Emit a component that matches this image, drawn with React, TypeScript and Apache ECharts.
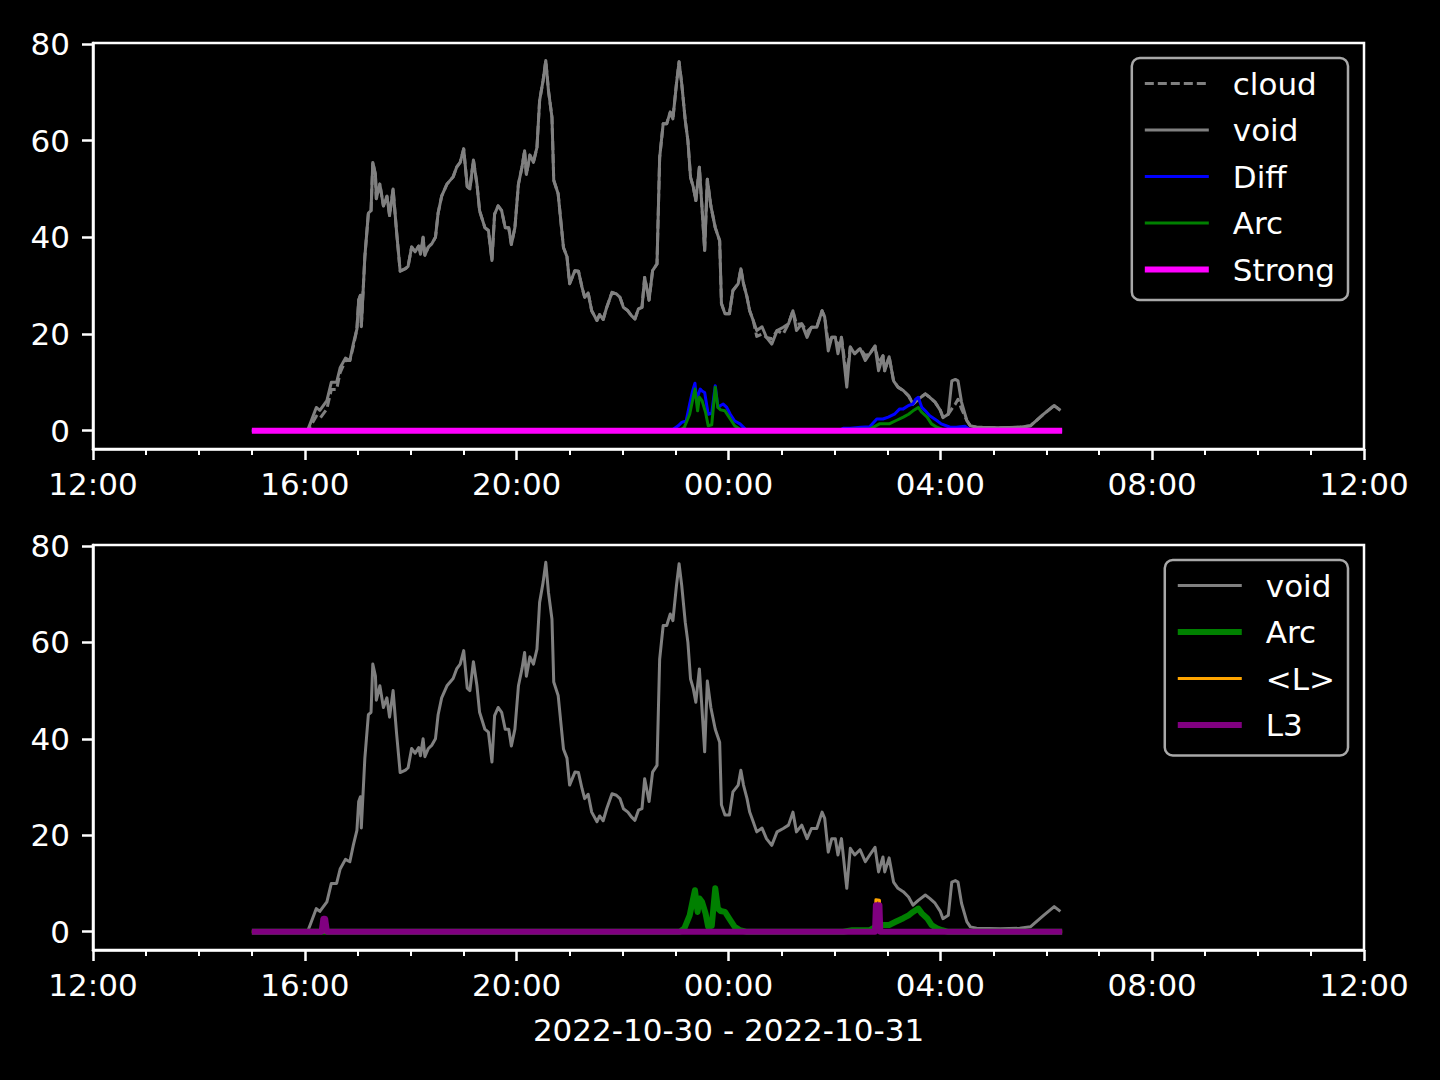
import React, { useEffect, useRef } from 'react';
import * as echarts from 'echarts';

// Time axis: minutes after 2022-10-30 12:00
const xTickLabels = ['12:00', '16:00', '20:00', '00:00', '04:00', '08:00', '12:00'];
const yTickValues = [0, 20, 40, 60, 80];
const dateRangeLabel = '2022-10-30 - 2022-10-31';

const sampleMinutes = [
  180, 200, 220, 243, 246, 253, 257, 265, 270, 276, 280, 286, 291, 295, 299, 301, 303, 304, 308, 312,
  315, 317, 320, 321, 325, 329, 333, 336, 340, 344, 348, 354, 357, 361, 365, 369, 371, 374, 376, 380,
  384, 388, 391, 395, 401, 408, 412, 416, 420, 424, 427, 431, 435, 438, 444, 448, 452, 455, 459, 463,
  467, 471, 474, 478, 482, 486, 489, 491, 495, 499, 503, 506, 510, 513, 516, 520, 522, 527, 533, 537,
  540, 546, 550, 554, 557, 561, 565, 571, 574, 578, 582, 588, 593, 597, 601, 606, 610, 614, 618, 622,
  625, 630, 634, 639, 642, 646, 650, 654, 657, 661, 664, 667, 671, 674, 677, 680, 683, 687, 690, 693,
  696, 700, 705, 710, 712, 716, 721, 725, 731, 734, 737, 741, 744, 748, 752, 758, 763, 769, 775, 782,
  788, 793, 797, 803, 809, 814, 820, 826, 829, 833, 837, 841, 844, 848, 854, 858, 863, 869, 875, 880,
  886, 890, 895, 897, 902, 907, 912, 918, 924, 929, 935, 943, 948, 954, 960, 963, 969, 973, 977, 980,
  984, 990, 994, 1001, 1028, 1050, 1062, 1077, 1089, 1096,
];

const voidValues = [
  0, 0, 0, 0, 1.4, 4.8, 4.2, 6.2, 10, 10, 13, 15, 14.5, 18, 21, 27, 28, 21.5, 36, 45,
  45.5, 55.5, 53, 48, 51, 46.5, 48.5, 44.5, 50, 41, 33, 33.5, 34, 38, 37, 38.2, 36.5, 40, 36.3, 38,
  38.7, 40, 45, 48.5, 51, 52.5, 54.5, 55.5, 58.3, 50.5, 50, 56, 51, 45.5, 42, 41.4, 35.2, 44.8, 46.5, 45.5,
  42, 42, 38.5, 42, 51, 54.5, 57.9, 53, 57, 55.5, 58.6, 68.3, 72.5, 76.6, 70.4, 64.8, 51.8, 49, 37.9, 36,
  30.4, 33.1, 33, 29.7, 27.6, 28.5, 24.8, 22.8, 24, 23, 25.5, 28.6, 28.3, 27.6, 25.5, 24.8, 23.8, 23.1, 25.2, 25.5,
  31.7, 27, 33.1, 34.5, 56.5, 63.5, 63.5, 65.9, 64.5, 71.7, 76.3, 71.8, 64.2, 60, 52.4, 50.5, 47.6, 54.5, 46.1, 37.3,
  52, 46.5, 42, 39.3, 26.3, 24.2, 24.2, 29, 30.4, 33.5, 30.4, 27.6, 24.8, 22.8, 20.7, 21.5, 19.3, 17.9, 20.7, 21.4,
  22.1, 24.8, 20.7, 22.1, 19.3, 21.4, 21.4, 24.8, 23.5, 16.5, 19.3, 19.3, 15.9, 19.3, 9, 17.3, 15.9, 17, 14.5, 15.9,
  17.5, 12.4, 15.5, 12.4, 15.3, 10.3, 9, 8.3, 7.2, 5.5, 6.5, 7.6, 6.9, 5.9, 4.2, 2.7, 3.4, 10.3, 10.6, 10.3,
  5.9, 2.1, 1, 0.7, 0.6, 0.7, 1, 3.4, 5.2, 4.2,
];

const cloudValues = [
  0, 0, 0, 0, 0.8, 3, 2.5, 4.5, 8.5, 8.5, 12, 14.5, 14.5, 17.5, 21, 27, 28, 21.5, 36, 45,
  45.5, 55.5, 53, 48, 51, 46.5, 48.5, 44.5, 50, 41, 33, 33.5, 34, 38, 37, 38.2, 36.5, 40, 36.3, 38,
  38.7, 40, 45, 48.5, 51, 52.5, 54.5, 55.5, 58.3, 50.5, 50, 56, 51, 45.5, 42, 41.4, 35.2, 44.8, 46.5, 45.5,
  42, 42, 38.5, 42, 51, 54.5, 57.9, 53, 57, 55.5, 58.6, 68.3, 72.5, 76.6, 70.4, 64.8, 51.8, 49, 37.9, 36,
  30.4, 33.1, 33, 29.7, 27.6, 28.5, 24.8, 22.8, 24, 23, 25.5, 28.6, 28.3, 27.6, 25.5, 24.8, 23.8, 23.1, 25.2, 25.5,
  31.7, 27, 33.1, 34.5, 56.5, 63.5, 63.5, 65.9, 64.5, 71.7, 76.3, 71.8, 64.2, 60, 52.4, 50.5, 47.6, 54.5, 46.1, 37.3,
  52, 46.5, 42, 39.3, 26.3, 24.2, 24.2, 29, 30.4, 33.5, 30.4, 27.6, 24.8, 22.8, 19.5, 20, 19.3, 19, 20.7, 20,
  22.1, 24.8, 22, 22.1, 20.5, 21.4, 21.4, 24.8, 23.5, 18, 19.3, 19.3, 17.5, 19.3, 11, 17.3, 15.9, 17, 15.5, 15.9,
  17.5, 14, 15.5, 12.4, 15.3, 10.3, 9, 8.3, 7.2, 5.5, 6.5, 7.6, 6.9, 5.9, 4.2, 2.7, 3.4, 4.5, 5.5, 6.5,
  4.5, 2.1, 1, 0.7, 0.6, 0.7, 1, 3.4, 5.2, 4.2,
];

const diffMinutes = [
  180, 655, 663, 667, 672, 676, 679, 682, 684, 686, 688, 690, 693, 697, 701, 705, 708, 711, 714, 718,
  722, 727, 733, 739, 745, 845, 850, 858, 870, 880, 888, 895, 901, 908, 914, 918, 924, 929, 932, 935,
  939, 943, 948, 956, 961, 971, 978, 988, 993, 1000, 1098,
];
const diffValues = [
  0, 0, 1, 1.7, 2, 5.5, 8, 9.8, 6, 7.6, 8.6, 8.2, 7.9, 3.4, 3.6, 9.3, 4.8, 5.2, 5.5, 4.8,
  3.4, 2, 1.4, 0.3, 0, 0, 0.5, 0.5, 0.7, 0.8, 2.4, 2.4, 2.8, 3.4, 4.5, 4.5, 5.2, 5.5, 6.5, 6.9,
  4.8, 4.1, 3.1, 2.1, 1.4, 0.7, 0.7, 0.9, 0.3, 0, 0,
];

const arcMinutes = [
  180, 665, 670, 676, 680, 682, 685, 687, 690, 694, 697, 701, 705, 708, 711, 716, 722, 727, 733, 740,
  850, 860, 880, 891, 902, 910, 918, 924, 929, 935, 939, 945, 950, 956, 962, 968, 1098,
];
const arcValues = [
  0, 0, 0.7, 3.4, 6.9, 8.6, 4.1, 6.9, 6.2, 3.8, 1, 1.2, 9, 4.8, 4.3, 4.1, 2.4, 1, 0.3, 0,
  0, 0.3, 0.3, 1.4, 1.4, 2.1, 2.8, 3.4, 4.1, 4.8, 3.8, 2.8, 1.4, 0.7, 0.3, 0, 0,
];

const strongMinutes = [180, 1098];
const strongValues = [0, 0];

const lMinutes = [180, 886, 887, 891, 892, 1098];
const lValues = [0, 0, 6.6, 6.5, 0, 0];

const l3Minutes = [180, 259, 261, 263, 265, 886, 887, 891, 892, 1098];
const l3Values = [0, 0, 2.7, 2.7, 0, 0, 5.5, 5.5, 0, 0];

const pairs = (xs: number[], ys: number[]) => xs.map((x, i) => [x, ys[i]]);

const FONT = 'DejaVu Sans';
const GRAY = '#808080';

function makeXAxis(gridIndex: number, withName: boolean) {
  return {
    type: 'value',
    gridIndex,
    min: 0,
    max: 1440,
    interval: 240,
    axisLine: { show: true, onZero: false, lineStyle: { color: '#ffffff', width: 2.5 } },
    axisTick: { show: true, length: 11, lineStyle: { color: '#ffffff', width: 2.5 } },
    minorTick: { show: true, splitNumber: 4, length: 6, lineStyle: { color: '#ffffff', width: 2 } },
    splitLine: { show: false },
    minorSplitLine: { show: false },
    axisLabel: {
      color: '#ffffff',
      fontSize: 31,
      fontFamily: FONT,
      margin: 19,
      formatter: (v: number) => xTickLabels[Math.round(v / 240)] ?? '',
    },
    name: withName ? dateRangeLabel : '',
    nameLocation: 'middle',
    nameGap: 64,
    nameTextStyle: { color: '#ffffff', fontSize: 31, fontFamily: FONT },
  };
}

function makeYAxis(gridIndex: number) {
  return {
    type: 'value',
    gridIndex,
    min: -3.8,
    max: 80.2,
    axisLine: { show: true, onZero: false, lineStyle: { color: '#ffffff', width: 2.5 } },
    axisTick: { show: true, length: 11, customValues: yTickValues, lineStyle: { color: '#ffffff', width: 2.5 } },
    splitLine: { show: false },
    axisLabel: {
      color: '#ffffff',
      fontSize: 31,
      fontFamily: FONT,
      margin: 23,
      customValues: yTickValues,
    },
  };
}

function lineSeries(name: string, xIndex: number, data: number[][], color: string, width: number, dashed = false) {
  return {
    type: 'line',
    name,
    xAxisIndex: xIndex,
    yAxisIndex: xIndex,
    data,
    symbol: 'none',
    showSymbol: false,
    silent: true,
    lineStyle: { color, width, type: dashed ? [9, 4] : 'solid', join: 'round', cap: 'butt' },
    itemStyle: { color },
  };
}

const legendCommon = {
  orient: 'vertical',
  right: 92,
  backgroundColor: '#000000',
  borderColor: '#a8a8a8',
  borderWidth: 2.5,
  borderRadius: 8,
  itemWidth: 64,
  itemHeight: 20,
  itemGap: 15.5,
  padding: [10, 13, 15, 10],
  selectedMode: false,
  itemStyle: { opacity: 0, color: 'transparent', borderWidth: 0 },
  lineStyle: { width: 'inherit' },
  textStyle: { color: '#ffffff', fontSize: 31, fontFamily: FONT, lineHeight: 31, padding: [0, 0, 0, 19] },
};

export default function App() {
  const ref = useRef<HTMLDivElement>(null);
  useEffect(() => {
    document.body.style.margin = '0';
    document.body.style.background = '#000000';
    if (!ref.current) return;
    const chart = echarts.init(ref.current, null, { renderer: 'svg' });
    chart.setOption({
      animation: false,
      backgroundColor: '#000000',
      grid: [
        { left: 93, top: 43, width: 1271, height: 406, show: true, borderColor: '#ffffff', borderWidth: 2.5, backgroundColor: 'transparent' },
        { left: 93, top: 545, width: 1271, height: 405, show: true, borderColor: '#ffffff', borderWidth: 2.5, backgroundColor: 'transparent' },
      ],
      xAxis: [makeXAxis(0, false), makeXAxis(1, true)],
      yAxis: [makeYAxis(0), makeYAxis(1)],
      legend: [
        {
          ...legendCommon,
          top: 58,
          data: ['cloud', 'void', 'Diff', 'Arc', 'Strong'],
        },
        {
          ...legendCommon,
          top: 560,
          data: [
            { name: 'void' },
            { name: 'Arc', lineStyle: { width: 6 } },
            { name: '<L>' },
            { name: 'L3' },
          ],
        },
      ],
      series: [
        lineSeries('cloud', 0, pairs(sampleMinutes, cloudValues), GRAY, 3, true),
        lineSeries('void', 0, pairs(sampleMinutes, voidValues), GRAY, 3),
        lineSeries('Diff', 0, pairs(diffMinutes, diffValues), '#0000ff', 3),
        lineSeries('Arc', 0, pairs(arcMinutes, arcValues), '#008000', 3),
        lineSeries('Strong', 0, pairs(strongMinutes, strongValues), '#ff00ff', 6),
        lineSeries('void', 1, pairs(sampleMinutes, voidValues), GRAY, 3),
        lineSeries('Arc', 1, pairs(arcMinutes, arcValues), '#008000', 6),
        lineSeries('<L>', 1, pairs(lMinutes, lValues), '#ffa500', 3),
        lineSeries('L3', 1, pairs(l3Minutes, l3Values), '#800080', 6),
      ],
    });
    return () => chart.dispose();
  }, []);
  return <div ref={ref} style={{ width: 1440, height: 1080, background: '#000000' }} />;
}
